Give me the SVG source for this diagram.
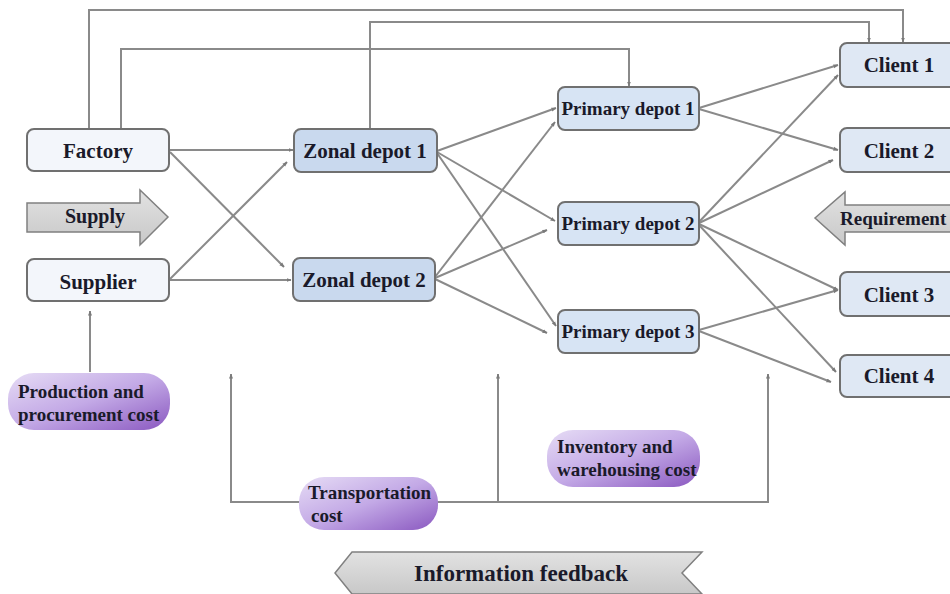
<svg xmlns="http://www.w3.org/2000/svg" width="950" height="594" viewBox="0 0 950 594">
  <defs>
    <marker id="ah" viewBox="0 0 10 10" refX="9" refY="5" markerWidth="5" markerHeight="5" orient="auto" markerUnits="userSpaceOnUse">
      <path d="M0,1 L10,5 L0,9 Z" fill="#7a7a7a"/>
    </marker>
    <linearGradient id="purple" x1="0" y1="0" x2="1" y2="1">
      <stop offset="0" stop-color="#e6dcf5"/>
      <stop offset="0.5" stop-color="#c3a9e6"/>
      <stop offset="1" stop-color="#8a58c0"/>
    </linearGradient>
    <linearGradient id="grey" x1="0" y1="0" x2="0" y2="1">
      <stop offset="0" stop-color="#e2e2e2"/>
      <stop offset="1" stop-color="#c8c8c8"/>
    </linearGradient>
  </defs>
  <style>
    .box { stroke: #707070; stroke-width: 2; }
    .src { fill: #f3f6fb; }
    .zone { fill: #c9d9ee; }
    .prim { fill: #d7e4f4; }
    .cli { fill: #dfe8f4; }
    .pill { fill: url(#purple); }
    .big { fill: url(#grey); stroke: #808080; stroke-width: 1.5; }
    .lbl { font-family: "Liberation Serif", "Times New Roman", serif; font-weight: bold; fill: #1a1a2a; }
    .conn { fill: none; stroke: #8a8a8a; stroke-width: 2; }
  </style>

  <!-- connectors -->
  <g id="connectors" class="conn">
    <!-- feedback lines over the top -->
    <path d="M89,128 V10 H903 V42" marker-end="url(#ah)"/>
    <path d="M370,128 V22 H869 V42" marker-end="url(#ah)"/>
    <path d="M121,128 V49 H629 V86" marker-end="url(#ah)"/>
    <!-- factory / supplier to zonal depots -->
    <path d="M170,150 H293" marker-end="url(#ah)"/>
    <path d="M170,152 L284,267" marker-end="url(#ah)"/>
    <path d="M170,279 L287,162" marker-end="url(#ah)"/>
    <path d="M170,280 H291" marker-end="url(#ah)"/>
    <!-- zonal depots to primary depots -->
    <path d="M437,151 L556,108" marker-end="url(#ah)"/>
    <path d="M437,152 L555,221" marker-end="url(#ah)"/>
    <path d="M437,153 L556,326" marker-end="url(#ah)"/>
    <path d="M435,277 L555,122" marker-end="url(#ah)"/>
    <path d="M435,278 L547,230" marker-end="url(#ah)"/>
    <path d="M435,279 L547,333" marker-end="url(#ah)"/>
    <!-- primary depots to clients -->
    <path d="M699,108 L838,65" marker-end="url(#ah)"/>
    <path d="M699,109 L838,150" marker-end="url(#ah)"/>
    <path d="M699,222 L838,75" marker-end="url(#ah)"/>
    <path d="M699,223 L833,160" marker-end="url(#ah)"/>
    <path d="M699,224 L838,290" marker-end="url(#ah)"/>
    <path d="M699,225 L836,372" marker-end="url(#ah)"/>
    <path d="M699,330 L838,290" marker-end="url(#ah)"/>
    <path d="M699,331 L831,382" marker-end="url(#ah)"/>
    <!-- cost links -->
    <path d="M90,372 V311" marker-end="url(#ah)"/>
    <path d="M300,502 H231 V374" marker-end="url(#ah)"/>
    <path d="M437,502 H768 V374" marker-end="url(#ah)"/>
    <path d="M498,502 V374" marker-end="url(#ah)"/>
  </g>

  <!-- sources -->
  <g id="factory">
    <rect class="box src" x="27" y="129" width="142" height="42" rx="7"/>
    <text class="lbl" x="98" y="158" font-size="21" text-anchor="middle">Factory</text>
  </g>
  <g id="supplier">
    <rect class="box src" x="27" y="259" width="142" height="42" rx="7"/>
    <text class="lbl" x="98" y="289" font-size="21" text-anchor="middle">Supplier</text>
  </g>
  <g id="supply">
    <path class="big" d="M27,203 H140 V190 L168,217 L140,245 V232 H27 Z"/>
    <text class="lbl" x="95" y="223" font-size="20" text-anchor="middle">Supply</text>
  </g>

  <!-- zonal depots -->
  <g id="zonal1">
    <rect class="box zone" x="294" y="129" width="143" height="43" rx="7"/>
    <text class="lbl" x="365" y="158" font-size="21" text-anchor="middle">Zonal depot 1</text>
  </g>
  <g id="zonal2">
    <rect class="box zone" x="293" y="258" width="142" height="43" rx="7"/>
    <text class="lbl" x="364" y="287" font-size="21" text-anchor="middle">Zonal depot 2</text>
  </g>

  <!-- primary depots -->
  <g id="primary1">
    <rect class="box prim" x="558" y="87" width="141" height="43" rx="7"/>
    <text class="lbl" x="628" y="115" font-size="19" text-anchor="middle">Primary depot 1</text>
  </g>
  <g id="primary2">
    <rect class="box prim" x="558" y="202" width="141" height="43" rx="7"/>
    <text class="lbl" x="628" y="230" font-size="19" text-anchor="middle">Primary depot 2</text>
  </g>
  <g id="primary3">
    <rect class="box prim" x="558" y="310" width="141" height="43" rx="7"/>
    <text class="lbl" x="628" y="338" font-size="19" text-anchor="middle">Primary depot 3</text>
  </g>

  <!-- clients -->
  <g id="client1">
    <rect class="box cli" x="840" y="43" width="120" height="44" rx="7"/>
    <text class="lbl" x="899" y="72" font-size="21" text-anchor="middle">Client 1</text>
  </g>
  <g id="client2">
    <rect class="box cli" x="840" y="128" width="120" height="44" rx="7"/>
    <text class="lbl" x="899" y="158" font-size="21" text-anchor="middle">Client 2</text>
  </g>
  <g id="requirement">
    <path class="big" d="M960,205 H845 V192 L815,218 L845,245 V232 H960 Z"/>
    <text class="lbl" x="840" y="225" font-size="19">Requirement</text>
  </g>
  <g id="client3">
    <rect class="box cli" x="840" y="272" width="120" height="44" rx="7"/>
    <text class="lbl" x="899" y="302" font-size="21" text-anchor="middle">Client 3</text>
  </g>
  <g id="client4">
    <rect class="box cli" x="840" y="355" width="120" height="42" rx="7"/>
    <text class="lbl" x="899" y="383" font-size="21" text-anchor="middle">Client 4</text>
  </g>

  <!-- cost factors -->
  <g id="production-cost">
    <rect class="pill" x="8" y="373" width="162" height="57" rx="26"/>
    <text class="lbl" x="18" y="398" font-size="19">Production and</text>
    <text class="lbl" x="18" y="421" font-size="19">procurement cost</text>
  </g>
  <g id="transport-cost">
    <rect class="pill" x="299" y="477" width="139" height="53" rx="25"/>
    <text class="lbl" x="308" y="499" font-size="19">Transportation</text>
    <text class="lbl" x="311" y="522" font-size="19">cost</text>
  </g>
  <g id="inventory-cost">
    <rect class="pill" x="547" y="430" width="153" height="57" rx="26"/>
    <text class="lbl" x="557" y="453" font-size="19">Inventory and</text>
    <text class="lbl" x="557" y="476" font-size="19">warehousing cost</text>
  </g>

  <!-- information feedback banner -->
  <g id="info-feedback">
    <path class="big" d="M352,552 H702 L682,573 L702,594 H352 L335,573 Z"/>
    <text class="lbl" x="521" y="581" font-size="23" text-anchor="middle">Information feedback</text>
  </g>
</svg>
